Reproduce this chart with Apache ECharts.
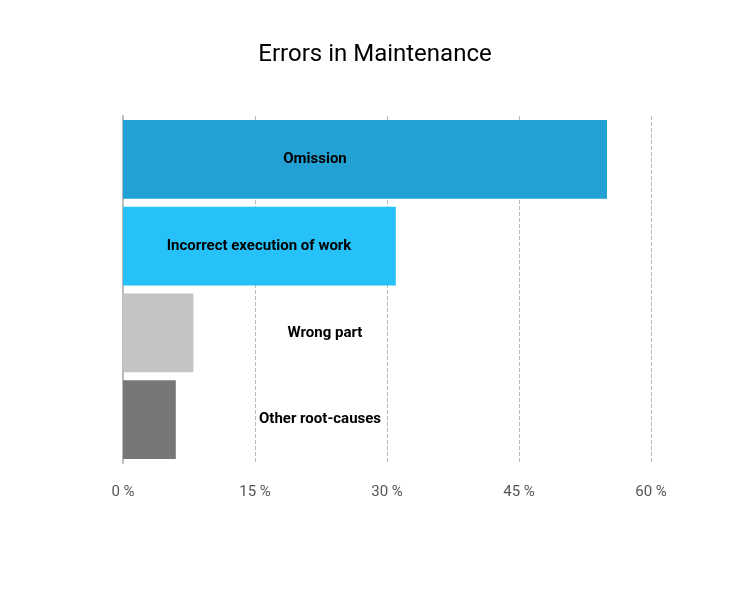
<!DOCTYPE html><html><head><meta charset="utf-8">
<script src="https://cdn.jsdelivr.net/npm/echarts@6/dist/echarts.min.js"></script>
<style>html,body{margin:0;padding:0;background:#fff}#c{width:750px;height:594px}</style></head><body><div id="c"></div>
<script>
const categories=['Omission','Incorrect execution of work','Wrong part','Other root-causes'];
const values=[55,31,8,6];
const colors=['#23a1d4','#27c1fa','#c4c4c4','#777777'];
const labelX=[192,136,202,197];
const ch=echarts.init(document.getElementById('c'));
ch.setOption({
 animation:false,
 title:{text:'Errors in Maintenance',left:'center',top:38,textStyle:{fontFamily:'Roboto',fontSize:24,fontWeight:'normal',color:'#000'}},
 grid:{left:123,right:99,top:116,bottom:131,containLabel:false},
 xAxis:{type:'value',min:0,max:60,interval:15,
  axisLabel:{formatter:'{value} %',color:'#555',fontFamily:'Roboto',fontSize:15,margin:22},
  axisLine:{show:false},axisTick:{show:false},
  splitLine:{lineStyle:{type:'dashed',color:'#bbb'}}},
 yAxis:{type:'category',inverse:true,data:categories,axisLabel:{show:false},axisTick:{show:false},
  axisLine:{show:true,lineStyle:{color:'#bbb',width:2}}},
 series:[{type:'bar',barCategoryGap:'9%',
  data:values.map((v,i)=>({value:v,itemStyle:{color:colors[i]},
   label:{show:true,position:[labelX[i],'50%'],align:'center',verticalAlign:'middle',formatter:categories[i],
    fontFamily:'Roboto',fontWeight:'bold',fontSize:15,color:'#000'}}))}]
});
</script></body></html>
